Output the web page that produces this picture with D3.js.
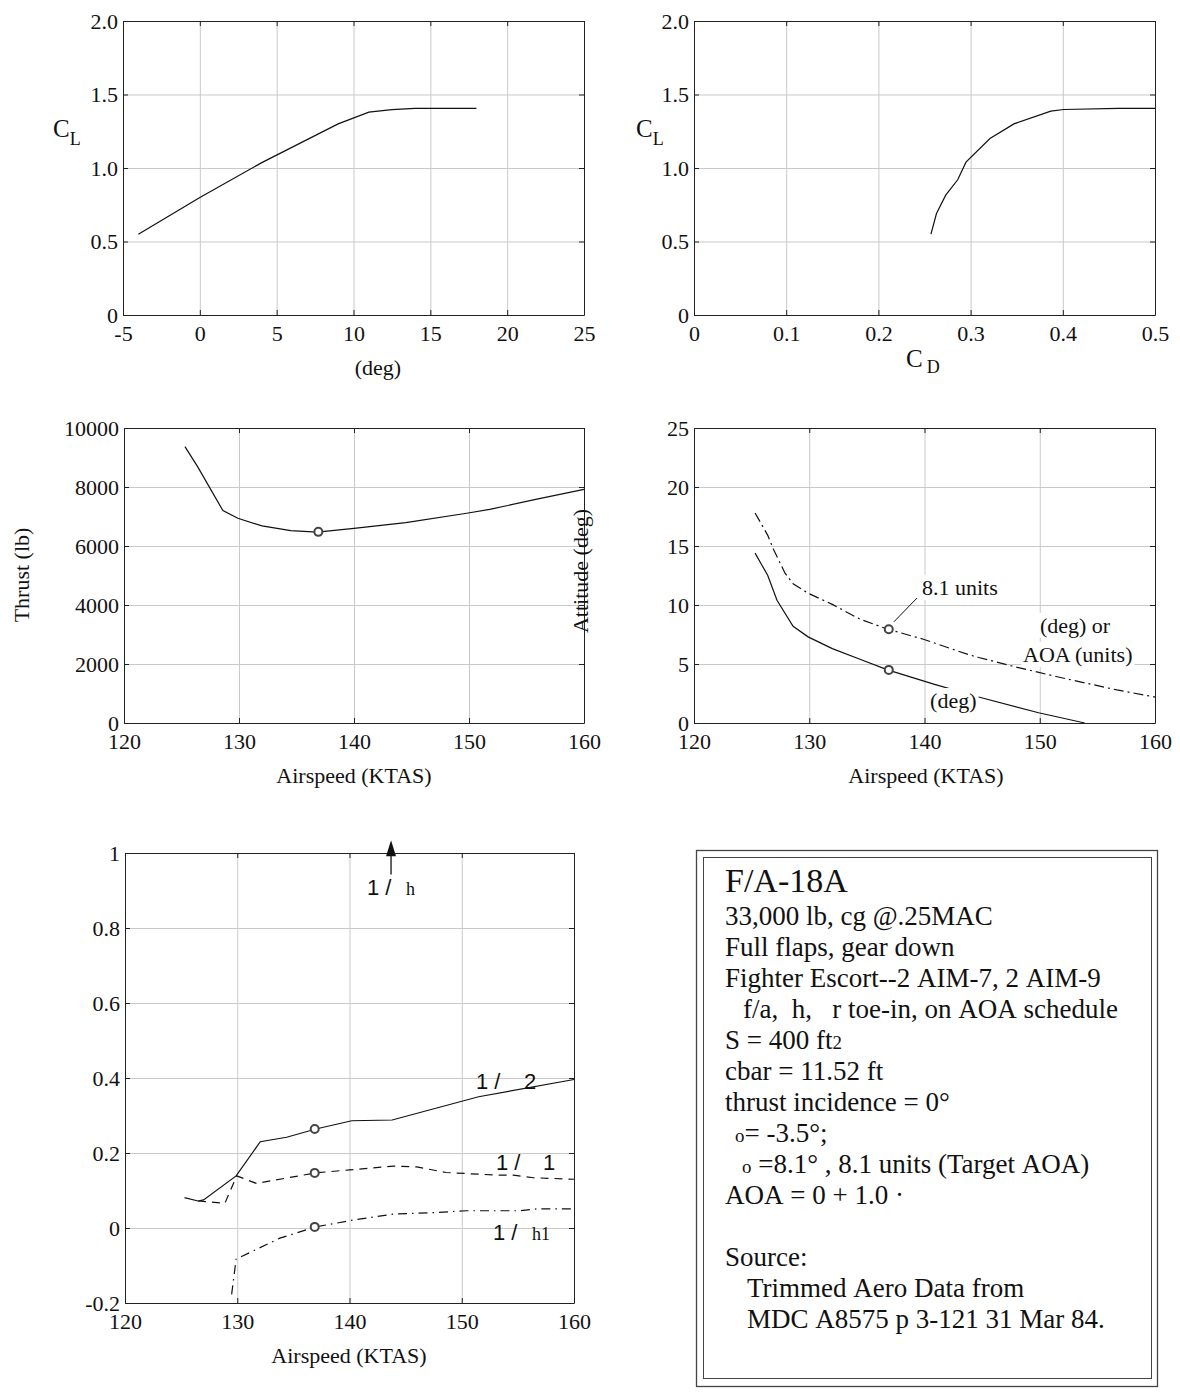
<!DOCTYPE html>
<html><head><meta charset="utf-8">
<script src="https://cdn.jsdelivr.net/npm/d3@7"></script>
<style>
body{margin:0;background:#fff;}
svg{display:block;}
text{font-family:"Liberation Serif","Times New Roman",serif;fill:#111;}
</style></head><body>
<script>
// ---------- DATA ----------
// Panel 1: CL vs alpha
const alphaDeg = [-4, 0, 4, 9, 11, 12.5, 14, 18];
const clAlpha  = [0.55, 0.80, 1.035, 1.30, 1.38, 1.397, 1.405, 1.405];
// Panel 2: drag polar
const cdPolar = [0.257, 0.263, 0.273, 0.286, 0.295, 0.321, 0.347, 0.387, 0.401, 0.46, 0.5];
const clPolar = [0.55, 0.69, 0.815, 0.92, 1.04, 1.20, 1.30, 1.387, 1.398, 1.405, 1.405];
// Panel 3: thrust required
const vThrust = [125.3, 126.4, 128.6, 129.9, 132.0, 134.5, 136.8, 140.0, 144.5, 149.8, 151.8, 155.8, 160];
const thrust  = [9370, 8690, 7200, 6940, 6680, 6520, 6470, 6600, 6790, 7110, 7240, 7580, 7920];
// Panel 4: attitude and AOA
const vTheta = [125.3, 126.4, 127.2, 128.6, 129.9, 132.0, 134.4, 136.8, 140.8, 144.7, 149.9, 153.9];
const theta  = [14.4, 12.5, 10.4, 8.2, 7.3, 6.3, 5.4, 4.5, 3.3, 2.2, 0.87, 0];
const vAlpha = [125.3, 126.4, 126.9, 127.9, 128.6, 129.9, 132.0, 134.4, 136.8, 139.9, 143.8, 144.7, 147.5, 151.6, 156.7, 160];
const alphaAoa = [17.8, 15.9, 14.7, 12.7, 11.8, 11.0, 10.05, 8.8, 7.95, 7.1, 5.8, 5.55, 4.85, 3.9, 2.8, 2.2];
// Panel 5: inverse time constants
const v2 = [125.3, 126.5, 127.0, 129.9, 132.05, 134.4, 137.0, 140.2, 143.8, 151.5, 160];
const r2 = [0.081, 0.072, 0.075, 0.139, 0.230, 0.242, 0.264, 0.286, 0.288, 0.350, 0.396];
const v1 = [126.5, 128.9, 129.95, 131.7, 137.0, 140.0, 143.9, 146.0, 148.6, 153.1, 154.6, 156.4, 160];
const r1 = [0.072, 0.066, 0.139, 0.119, 0.147, 0.155, 0.165, 0.163, 0.148, 0.141, 0.141, 0.134, 0.130];
const vh1 = [129.5, 129.9, 133.8, 137.0, 140.3, 143.9, 147.5, 150.4, 155.2, 156.7, 160];
const rh1 = [-0.177, -0.083, -0.027, 0.003, 0.021, 0.037, 0.041, 0.046, 0.046, 0.051, 0.051];
// trim point markers
const trimV = 136.9;
const trimThrust = 6480, trimTheta = 4.5, trimAlpha = 7.95, trimR2 = 0.264, trimR1 = 0.147, trimRh1 = 0.003;
// tick values
const ticksAlpha = [-5, 0, 5, 10, 15, 20, 25];
const ticksCL = [0, 0.5, 1.0, 1.5, 2.0];
const ticksCD = [0, 0.1, 0.2, 0.3, 0.4, 0.5];
const ticksV = [120, 130, 140, 150, 160];
const ticksThrust = [0, 2000, 4000, 6000, 8000, 10000];
const ticksAtt = [0, 5, 10, 15, 20, 25];
const ticksInv = [-0.2, 0, 0.2, 0.4, 0.6, 0.8, 1];
// annotation anchors (data units)
const hArrow = {v: 143.7, from: 0.943, to: 1.034};
// note box text
const noteTitle = "F/A-18A";
const noteLines = [
  {ind:0, segs:[["33,000 lb, cg @.25MAC",1]]},
  {ind:0, segs:[["Full flaps, gear down",1]]},
  {ind:0, segs:[["Fighter Escort--2 AIM-7, 2 AIM-9",1]]},
  {ind:18, segs:[["f/a,  h,   r toe-in, on AOA schedule",1]]},
  {ind:0, segs:[["S = 400 ft",1],["2",0.7]]},
  {ind:0, segs:[["cbar = 11.52 ft",1]]},
  {ind:0, segs:[["thrust incidence = 0°",1]]},
  {ind:10, segs:[["o",0.7],["= -3.5°;",1]]},
  {ind:17, segs:[["o",0.7],[" =8.1° , 8.1 units (Target AOA)",1]]},
  {ind:0, segs:[["AOA = 0 + 1.0 ·",1]]},
  {ind:0, segs:[["",1]]},
  {ind:0, segs:[["Source:",1]]},
  {ind:22, segs:[["Trimmed Aero Data from",1]]},
  {ind:22, segs:[["MDC A8575 p 3-121 31 Mar 84.",1]]}
];

// ---------- DRAW ----------
const svg = d3.select("body").append("svg").attr("width",1180).attr("height",1393);
const FS = 22;
const nb = s => s.replace(/ /g, "\u00A0");

function panel(c){
  const xs = d3.scaleLinear().domain(c.xDom).range([c.x0,c.x1]);
  const ys = d3.scaleLinear().domain(c.yDom).range([c.y1,c.y0]);
  const g = svg.append("g");
  const w = c.x1-c.x0, h = c.y1-c.y0;
  g.append("g").attr("transform",`translate(0,${c.y1})`)
    .call(d3.axisBottom(xs).tickValues(c.xTicks.slice(1,-1)).tickSize(-h).tickFormat(""))
    .call(a=>{a.select(".domain").remove();a.selectAll("line").attr("stroke","#c9c9c9");});
  g.append("g").attr("transform",`translate(${c.x0},0)`)
    .call(d3.axisLeft(ys).tickValues(c.yTicks.slice(1,-1)).tickSize(-w).tickFormat(""))
    .call(a=>{a.select(".domain").remove();a.selectAll("line").attr("stroke","#c9c9c9");});
  const layer = g.append("g");
  const style = a => {
    a.attr("font-family",null).attr("font-size",FS);
    a.select(".domain").attr("stroke","#222");
    a.selectAll(".tick line").attr("stroke","#222");
    a.selectAll("text").attr("fill","#111");
  };
  g.append("g").attr("transform",`translate(0,${c.y1})`)
    .call(d3.axisBottom(xs).tickValues(c.xTicks).tickSize(-5).tickSizeOuter(0).tickPadding(10).tickFormat(c.xFmt)).call(style);
  g.append("g").attr("transform",`translate(0,${c.y0})`)
    .call(d3.axisTop(xs).tickValues(c.xTicks).tickSize(-5).tickSizeOuter(0).tickFormat("")).call(style);
  g.append("g").attr("transform",`translate(${c.x0},0)`)
    .call(d3.axisLeft(ys).tickValues(c.yTicks).tickSize(-5).tickSizeOuter(0).tickPadding(5).tickFormat(c.yFmt)).call(style);
  g.append("g").attr("transform",`translate(${c.x1},0)`)
    .call(d3.axisRight(ys).tickValues(c.yTicks).tickSize(-5).tickSizeOuter(0).tickFormat("")).call(style);
  return {xs, ys, g, layer};
}
function drawLine(p, xv, yv, dash){
  const line = d3.line().x(d=>p.xs(d[0])).y(d=>p.ys(d[1]));
  p.layer.append("path").datum(xv.map((x,i)=>[x,yv[i]]))
    .attr("d",line).attr("fill","none").attr("stroke","#111").attr("stroke-width",1.2)
    .attr("stroke-dasharray",dash||null);
}
function marker(p, x, y){
  p.g.append("circle").attr("cx",p.xs(x)).attr("cy",p.ys(y)).attr("r",4)
    .attr("fill","#fff").attr("stroke","#444").attr("stroke-width",2);
}
function bgText(p, x, y, str, anchor){
  const gg = p.g.append("g");
  const t = gg.append("text").attr("x",p.xs(x)).attr("y",p.ys(y)).attr("font-size",FS)
    .attr("text-anchor",anchor||"start").text(str);
  const b = t.node().getBBox();
  gg.insert("rect","text").attr("x",b.x-2).attr("y",b.y).attr("width",b.width+4).attr("height",b.height).attr("fill","#fff");
  return t;
}
const fmtInt = d => String(d);
const fmt1 = d => d===0 ? "0" : d.toFixed(1);
const fmtInv = d => Math.abs(d)<1e-9 ? "0" : (d===1 ? "1" : d.toFixed(1));

// Panel 1
const p1 = panel({x0:123,x1:584,y0:21,y1:315,xDom:[-5,25],yDom:[0,2],xTicks:ticksAlpha,yTicks:ticksCL,xFmt:fmtInt,yFmt:fmt1});
drawLine(p1, alphaDeg, clAlpha);
svg.append("text").attr("x",378).attr("y",375).attr("font-size",FS).attr("text-anchor","middle").text("(deg)");
const cl1 = svg.append("text").attr("x",53).attr("y",137).attr("font-size",25);
cl1.append("tspan").text("C"); cl1.append("tspan").attr("font-size",18).attr("dy",8).text("L");

// Panel 2
const p2 = panel({x0:694,x1:1155,y0:21,y1:315,xDom:[0,0.5],yDom:[0,2],xTicks:ticksCD,yTicks:ticksCL,xFmt:fmt1,yFmt:fmt1});
drawLine(p2, cdPolar, clPolar);
const cl2 = svg.append("text").attr("x",636).attr("y",137).attr("font-size",25);
cl2.append("tspan").text("C"); cl2.append("tspan").attr("font-size",18).attr("dy",8).text("L");
const cd2 = svg.append("text").attr("x",906).attr("y",367).attr("font-size",25);
cd2.append("tspan").text("C"); cd2.append("tspan").attr("font-size",18).attr("dx",4).attr("dy",6).text("D");

// Panel 3
const p3 = panel({x0:124,x1:584,y0:428,y1:723,xDom:[120,160],yDom:[0,10000],xTicks:ticksV,yTicks:ticksThrust,xFmt:fmtInt,yFmt:fmtInt});
drawLine(p3, vThrust, thrust);
marker(p3, trimV, trimThrust);
svg.append("text").attr("x",354).attr("y",783).attr("font-size",FS).attr("text-anchor","middle").text("Airspeed (KTAS)");
svg.append("text").attr("transform","translate(29,575) rotate(-90)").attr("font-size",FS).attr("text-anchor","middle").text("Thrust (lb)");

// Panel 4
const p4 = panel({x0:694,x1:1155,y0:428,y1:723,xDom:[120,160],yDom:[0,25],xTicks:ticksV,yTicks:ticksAtt,xFmt:fmtInt,yFmt:fmtInt});
drawLine(p4, vTheta, theta);
drawLine(p4, vAlpha, alphaAoa, "10,4,2,4");
marker(p4, trimV, trimTheta);
marker(p4, trimV, trimAlpha);
p4.g.append("line").attr("x1",p4.xs(137.35)).attr("y1",p4.ys(8.58)).attr("x2",p4.xs(139.35)).attr("y2",p4.ys(10.59))
  .attr("stroke","#111").attr("stroke-width",1);
bgText(p4, 139.78, 10.85, "8.1 units", "start");
bgText(p4, 153.06, 7.63, "(deg) or", "middle");
bgText(p4, 153.3, 5.17, "AOA (units)", "middle");
bgText(p4, 142.5, 1.27, "(deg)", "middle");
svg.append("text").attr("x",926).attr("y",783).attr("font-size",FS).attr("text-anchor","middle").text("Airspeed (KTAS)");
svg.append("text").attr("transform","translate(588,571) rotate(-90)").attr("font-size",FS).attr("text-anchor","middle").text("Attitude (deg)");

// Panel 5
const p5 = panel({x0:125,x1:574,y0:853,y1:1303,xDom:[120,160],yDom:[-0.2,1],xTicks:ticksV,yTicks:ticksInv,xFmt:fmtInt,yFmt:fmtInv});
drawLine(p5, v2, r2);
drawLine(p5, v1, r1, "8,6");
drawLine(p5, vh1, rh1, "9,5,1.5,5");
marker(p5, trimV, trimR2);
marker(p5, trimV, trimR1);
marker(p5, trimV, trimRh1);
// arrow for 1/h
{
  const ax = p5.xs(hArrow.v), yb = p5.ys(hArrow.from), yt = p5.ys(hArrow.to);
  p5.g.append("line").attr("x1",ax).attr("x2",ax).attr("y1",yb).attr("y2",yt+14).attr("stroke","#111").attr("stroke-width",1.3);
  p5.g.append("path").attr("d",`M${ax},${yt} L${ax-5},${yt+16} L${ax+5},${yt+16} Z`).attr("fill","#111");
}
function ratioLabel(p, x, y, subX, sub, subFont){
  p.g.append("text").attr("x",p.xs(x)).attr("y",p.ys(y)).attr("font-size",FS)
    .style("font-family","'Liberation Sans', Arial, sans-serif").text(nb("1 /"));
  p.g.append("text").attr("x",p.xs(subX)).attr("y",p.ys(y)).attr("font-size",subFont==="sans"?FS:18)
    .style("font-family",subFont==="sans"?"'Liberation Sans', Arial, sans-serif":"'Liberation Serif', serif").text(sub);
}
ratioLabel(p5, 141.56, 0.887, 145.03, "h", "serif");
ratioLabel(p5, 151.27, 0.370, 155.55, "2", "sans");
ratioLabel(p5, 153.05, 0.155, 157.24, "1", "sans");
ratioLabel(p5, 152.78, -0.032, 156.26, "h1", "serif");
svg.append("text").attr("x",349).attr("y",1363).attr("font-size",FS).attr("text-anchor","middle").text("Airspeed (KTAS)");

// Note box
svg.append("rect").attr("x",696.5).attr("y",850.5).attr("width",461).attr("height",536).attr("fill","none").attr("stroke","#444").attr("stroke-width",1.3);
svg.append("rect").attr("x",703.5).attr("y",857.5).attr("width",448).attr("height",521).attr("fill","none").attr("stroke","#444").attr("stroke-width",1);
svg.append("text").attr("x",725).attr("y",892).attr("font-size",34).text(noteTitle);
noteLines.forEach((ln,i)=>{
  const t = svg.append("text").attr("x",725+ln.ind).attr("y",925+i*31).attr("font-size",27);
  ln.segs.forEach(s=>{ t.append("tspan").attr("font-size",27*s[1]).text(nb(s[0])); });
});
</script></body></html>
